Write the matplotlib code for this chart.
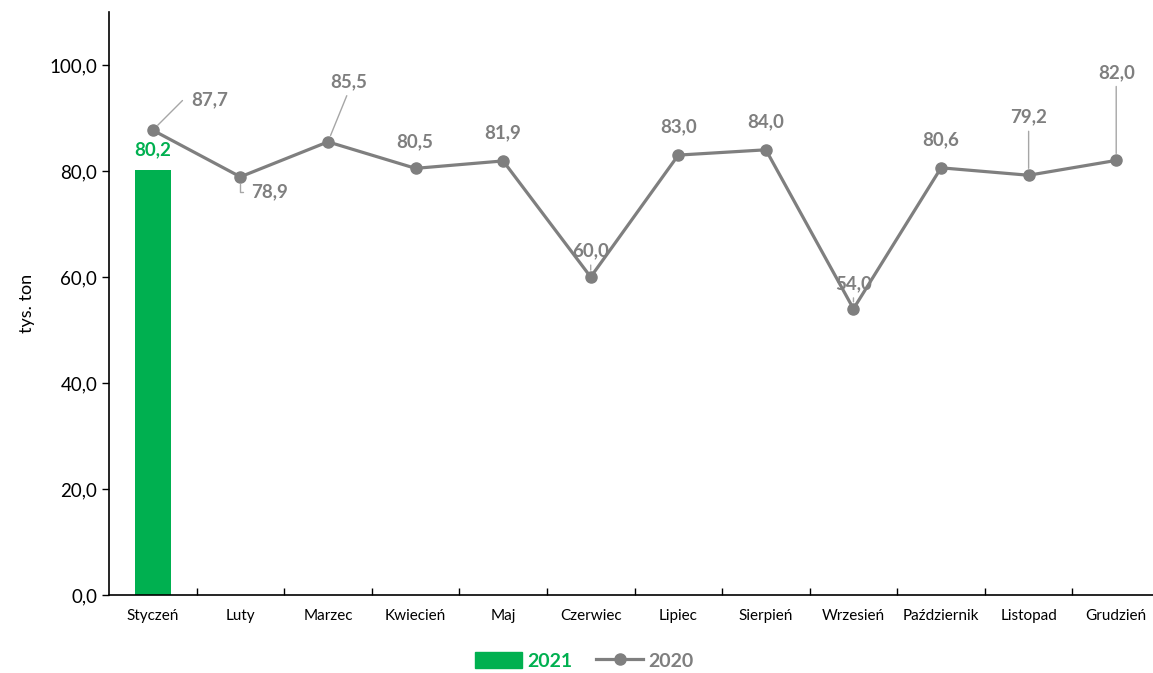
import matplotlib.pyplot as plt
from matplotlib.lines import Line2D
from matplotlib.patches import Patch
from matplotlib.ticker import FuncFormatter, FixedLocator
import numpy as np

plt.rcParams['font.family'] = ['Lato', 'DejaVu Sans']

# data
months = ["Styczeń", "Luty", "Marzec", "Kwiecień", "Maj", "Czerwiec",
          "Lipiec", "Sierpień", "Wrzesień", "Październik", "Listopad", "Grudzień"]
val_2020 = [87.7, 78.9, 85.5, 80.5, 81.9, 60.0, 83.0, 84.0, 54.0, 80.6, 79.2, 82.0]
val_2021 = [80.2]

GREEN = "#00b050"
GREY = "#7f7f7f"

# label offsets in pixels (dx, dy) and whether Excel drew a leader line
lab_off = [(57, 30), (30, -15), (21, 60), (-1, 27), (0, 28), (0, 26),
           (0, 28), (0, 28), (0, 25), (0, 28), (0, 58), (0, 88)]
leader = [True, True, True, False, False, True, False, False, True, False, True, True]


def fmt(v):
    return f"{v:.1f}".replace(".", ",")


fig = plt.figure(figsize=(11.53, 6.73), dpi=100)
ax = fig.add_axes([109 / 1153, 78 / 673, 1051 / 1153, 583 / 673])

x = np.arange(len(months))
ax.bar(x[:len(val_2021)], val_2021, width=0.41, color=GREEN, zorder=2)
ax.plot(x, val_2020, color=GREY, lw=2.3, marker="o", ms=8, zorder=3)

for i, v in enumerate(val_2021):
    ax.annotate(fmt(v), (x[i], v), xytext=(0, 20), textcoords="offset pixels",
                ha="center", va="center", color=GREEN, fontsize=13.5,
                fontweight="bold")

for i, v in enumerate(val_2020):
    dx, dy = lab_off[i]
    props = None
    if leader[i]:
        if i == 0:
            props = dict(arrowstyle="-", color="#a6a6a6", lw=1, relpos=(0, 0.5),
                         connectionstyle="angle,angleA=0,angleB=45,rad=0",
                         shrinkA=4, shrinkB=5)
        elif i == 1:
            props = dict(arrowstyle="-", color="#a6a6a6", lw=1, relpos=(0, 0.5),
                         connectionstyle="angle,angleA=0,angleB=90,rad=0",
                         shrinkA=4, shrinkB=5)
        else:
            props = dict(arrowstyle="-", color="#a6a6a6", lw=1, relpos=(0.5, 0),
                         shrinkA=2, shrinkB=5)
    ha = "left" if i in (0, 1) else "center"
    ax.annotate(fmt(v), (x[i], v), xytext=(dx - (19 if ha == "left" else 0), dy),
                textcoords="offset pixels", ha=ha, va="center", color=GREY,
                fontsize=13.5, fontweight="bold", arrowprops=props, zorder=4)

ax.set_xlim(-0.5, len(months) - 0.5)
ax.set_ylim(0, 110)
ax.set_yticks(np.arange(0, 101, 20))
ax.yaxis.set_major_formatter(FuncFormatter(lambda v, p: fmt(v)))
ax.set_xticks(x)
ax.set_xticklabels(months, fontsize=11)
ax.xaxis.set_minor_locator(FixedLocator(np.arange(0.5, len(months) - 0.5, 1)))
ax.tick_params(axis="x", which="major", length=0, pad=10)
ax.tick_params(axis="x", which="minor", direction="in", length=5, width=1)
ax.tick_params(axis="y", labelsize=13.5, length=5, width=1)
ax.set_ylabel("tys. ton", fontsize=13, labelpad=10)

for s in ("top", "right"):
    ax.spines[s].set_visible(False)
for s in ("left", "bottom"):
    ax.spines[s].set_color("black")
    ax.spines[s].set_linewidth(1.2)

handles = [Patch(color=GREEN),
           Line2D([], [], color=GREY, lw=2.3, marker="o", ms=8)]
leg = fig.legend(handles, ["2021", "2020"], loc="center", ncol=2,
                 bbox_to_anchor=(0.507, 0.018), frameon=False,
                 prop=dict(size=14, weight="bold"), handlelength=2.4,
                 handleheight=0.9, columnspacing=1.2, handletextpad=0.3)
for t, c in zip(leg.get_texts(), [GREEN, GREY]):
    t.set_color(c)

fig.savefig("out.png", dpi=100)
